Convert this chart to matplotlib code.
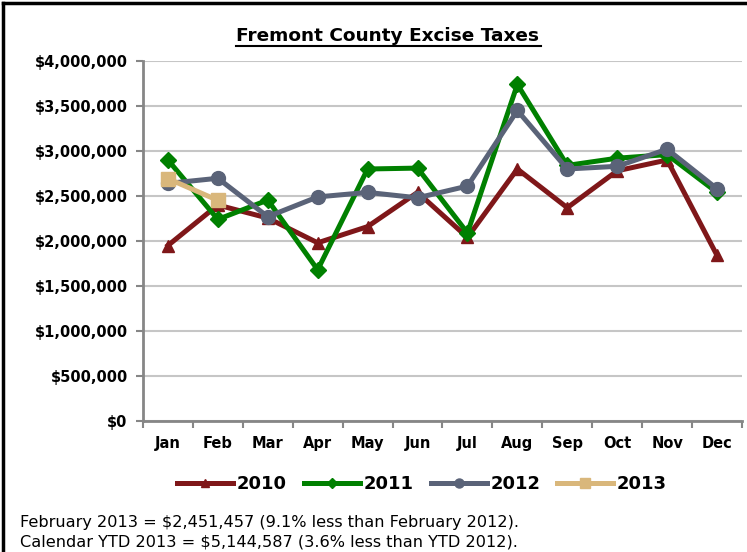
import numpy as np
import matplotlib
matplotlib.use("Agg")
import matplotlib.pyplot as plt
from matplotlib.lines import Line2D
from matplotlib.ticker import FuncFormatter

months = ['Jan', 'Feb', 'Mar', 'Apr', 'May', 'Jun',
          'Jul', 'Aug', 'Sep', 'Oct', 'Nov', 'Dec']
taxes_2010 = [1950000, 2400000, 2255000, 1980000, 2160000, 2540000,
              2040000, 2800000, 2370000, 2780000, 2900000, 1840000]
taxes_2011 = [2900000, 2240000, 2455000, 1680000, 2800000, 2810000,
              2090000, 3740000, 2840000, 2920000, 2960000, 2540000]
taxes_2012 = [2640000, 2697000, 2270000, 2490000, 2540000, 2480000,
              2610000, 3450000, 2800000, 2830000, 3020000, 2580000]
taxes_2013 = [2693130, 2451457]

note_lines = ['February 2013 = $2,451,457 (9.1% less than February 2012).',
              'Calendar YTD 2013 = $5,144,587 (3.6% less than YTD 2012).']

plt.rcParams['font.family'] = ['DejaVu Sans']

fig = plt.figure(figsize=(7.47, 5.52), dpi=100)
ax = fig.add_axes([0.1914, 0.2373, 0.8019, 0.6522])

x = np.arange(len(months))
series = [
    ('2010', taxes_2010, '#7F1719', '^', 9),
    ('2011', taxes_2011, '#008000', 'D', 8),
    ('2012', taxes_2012, '#5A6378', 'o', 10),
    ('2013', taxes_2013, '#D9B77B', 's', 10),
]
handles = []
for label, vals, col, mk, ms in series:
    h, = ax.plot(x[:len(vals)], vals, color=col, lw=3.6, marker=mk,
                 markersize=ms, markeredgecolor=col, markerfacecolor=col,
                 label=label, solid_joinstyle='miter', zorder=3)
    handles.append(h)

ax.set_xlim(-0.5, 11.5)
ax.set_ylim(0, 4000000)
ax.set_yticks(np.arange(0, 4000001, 500000))
ax.yaxis.set_major_formatter(FuncFormatter(lambda v, p: '${:,.0f}'.format(v)))
ax.yaxis.grid(True, color='#C6C6C6', lw=1.5, zorder=0)
ax.set_axisbelow(True)

ax.set_xticks(x)
ax.set_xticklabels(months)
ax.set_xticks(np.arange(-0.5, 12, 1), minor=True)
ax.tick_params(axis='x', which='major', length=0, pad=11)
ax.tick_params(axis='x', which='minor', length=5, width=1.5, color='#868686')
ax.tick_params(axis='y', length=5, width=1.5, color='#868686', pad=6)
for lbl in ax.get_xticklabels() + ax.get_yticklabels():
    lbl.set_fontweight('bold')
    lbl.set_fontsize(10.5)

for s in ['top', 'right']:
    ax.spines[s].set_visible(False)
for s in ['left', 'bottom']:
    ax.spines[s].set_color('#868686')
    ax.spines[s].set_linewidth(2)

fig.text(0.519, 0.935, 'Fremont County Excise Taxes', ha='center', va='center',
         fontsize=13.3, fontweight='bold')
fig.add_artist(Line2D([0.316, 0.724], [0.916, 0.916], color='black', lw=1.5,
                      transform=fig.transFigure))

fig.legend(handles=handles, loc='center', bbox_to_anchor=(0.565, 0.123),
           ncol=4, frameon=False, handlelength=3.1, columnspacing=0.95,
           handletextpad=0.2, markerscale=0.65,
           prop={'weight': 'bold', 'size': 13})

fig.text(0.027, 0.054, note_lines[0], ha='left', va='center', fontsize=11.6)
fig.text(0.027, 0.019, note_lines[1], ha='left', va='center', fontsize=11.6)

# frame edges visible in the crop
fig.add_artist(Line2D([0.004, 0.004], [0, 0.995], color='black', lw=2.5,
                      transform=fig.transFigure))
fig.add_artist(Line2D([0.004, 1], [0.995, 0.995], color='black', lw=2.5,
                      transform=fig.transFigure))

fig.savefig('out.png', dpi=100)
